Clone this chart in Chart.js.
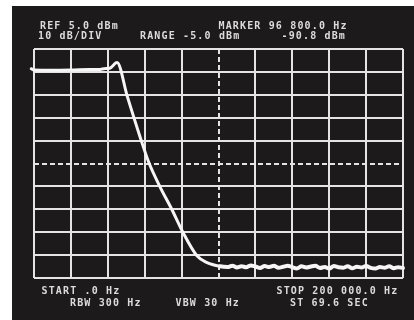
<!DOCTYPE html>
<html><head><meta charset="utf-8">
<script src="https://cdn.jsdelivr.net/npm/chart.js@4.4.0/dist/chart.umd.min.js"></script>
<style>html,body{margin:0;padding:0;background:#fff;overflow:hidden}</style>
</head><body>
<canvas id="c" width="414" height="320"></canvas>
<script>
// ---- data ----
const freqHz = [
  -1500, 0, 10000, 20000, 30000, 36000, 38000, 41000, 45000, 50600,
  57500, 62300, 68300, 74800, 80800, 88300, 93800, 100800,
  105000, 107500, 110000, 112500, 115000, 117500, 120000, 122500, 125000, 127500,
  130000, 132500, 135000, 137500, 140000, 142500, 145000, 147500, 150000, 152500,
  155000, 157500, 160000, 162500, 165000, 167500, 170000, 172500, 175000, 177500,
  180000, 182500, 185000, 187500, 190000, 192500, 195000, 197500, 200000, 202500
];
const levelDbm = [
  -3.6, -4.2, -4.3, -4.2, -4.0, -3.9, -3.6, -3.4, -0.9, -15.8,
  -33.4, -44.7, -55.2, -65.2, -75.2, -85.3, -88.3, -89.9,
  -90.2, -89.6, -90.4, -89.9, -90.3, -89.5, -90.0, -90.6, -89.8, -90.2,
  -89.7, -90.5, -90.1, -89.6, -90.3, -90.8, -89.9, -90.4, -90.0, -89.7,
  -90.6, -90.2, -90.9, -89.8, -90.3, -90.5, -89.9, -90.7, -90.1, -90.4,
  -89.8, -90.6, -90.9, -90.2, -90.5, -89.9, -90.7, -90.3, -90.6, -90.4
];
const xTickValues = [0, 20000, 40000, 60000, 80000, 100000, 120000, 140000, 160000, 180000, 200000];
const yTickValues = [-95, -85, -75, -65, -55, -45, -35, -25, -15, -5, 5];
const centerFreq = 100000;
const centerLevel = -45;
const floorStartHz = 100000;
const topLines = [
  {text: 'REF 5.0 dBm', x: 40, y: 28.5},
  {text: '10 dB/DIV', x: 38, y: 38.5},
  {text: 'RANGE -5.0 dBm', x: 140, y: 38.5},
  {text: 'MARKER 96 800.0 Hz', x: 218.5, y: 28.5},
  {text: '-90.8 dBm', x: 281.5, y: 38.5}
];
const bottomLines = [
  {text: 'START .0 Hz', x: 41.5, y: 293.5},
  {text: 'RBW 300 Hz', x: 70, y: 306},
  {text: 'VBW 30 Hz', x: 175.5, y: 306},
  {text: 'STOP 200 000.0 Hz', x: 276.5, y: 293.5},
  {text: 'ST 69.6 SEC', x: 290, y: 306}
];

const GRID = '#e4e4e4';
const BG = '#1c1a1b';
const TXT = '#dcdcdc';

const screenPlugin = {
  id: 'screen',
  beforeDraw(chart) {
    const ctx = chart.ctx;
    ctx.save();
    ctx.fillStyle = '#ffffff';
    ctx.fillRect(0, 0, chart.width, chart.height);
    ctx.fillStyle = BG;
    ctx.fillRect(12, 6, chart.width - 12, chart.height - 6);
    ctx.restore();
  },
  beforeDatasetsDraw(chart) {
    const ctx = chart.ctx, xs = chart.scales.x, ys = chart.scales.y, a = chart.chartArea;
    ctx.save();
    ctx.strokeStyle = GRID;
    ctx.lineWidth = 2;
    ctx.setLineDash([5, 3]);
    const cx = Math.round(xs.getPixelForValue(centerFreq));
    ctx.beginPath(); ctx.moveTo(cx, a.top); ctx.lineTo(cx, a.bottom); ctx.stroke();
    const cy = Math.round(ys.getPixelForValue(centerLevel));
    ctx.beginPath(); ctx.moveTo(a.left, cy); ctx.lineTo(a.right, cy); ctx.stroke();
    ctx.restore();
  },
  afterDraw(chart) {
    const ctx = chart.ctx;
    ctx.save();
    ctx.fillStyle = TXT;
    ctx.font = 'bold 10px "DejaVu Sans Mono"';
    ctx.textBaseline = 'alphabetic';
    ctx.textAlign = 'left';
    if ('letterSpacing' in ctx) ctx.letterSpacing = '1.15px';
    [...topLines, ...bottomLines].forEach(t => ctx.fillText(t.text, t.x, t.y));
    ctx.restore();
  }
};

new Chart(document.getElementById('c'), {
  type: 'line',
  data: {
    datasets: [{
      data: freqHz.map((f, i) => ({x: f, y: levelDbm[i]})),
      borderColor: '#f6f6f6',
      borderWidth: 3,
      pointRadius: 0,
      cubicInterpolationMode: 'monotone',
      clip: false,
      borderJoinStyle: 'round',
      borderCapStyle: 'round',
      segment: {
        borderWidth: c => (c.p0.parsed.x >= floorStartHz ? 4 : 3)
      }
    }]
  },
  options: {
    responsive: false,
    animation: false,
    devicePixelRatio: 1,
    layout: {padding: {left: 34, top: 49, right: 11, bottom: 42}},
    plugins: {legend: {display: false}, tooltip: {enabled: false}},
    scales: {
      x: {
        type: 'linear', min: 0, max: 200000,
        afterBuildTicks: s => { s.ticks = xTickValues.map(v => ({value: v})); },
        ticks: {display: false},
        grid: {
          color: c => (c.tick && c.tick.value === centerFreq) ? 'rgba(0,0,0,0)' : GRID,
          lineWidth: 2, drawTicks: false
        },
        border: {display: false}
      },
      y: {
        type: 'linear', min: -95, max: 5,
        afterBuildTicks: s => { s.ticks = yTickValues.map(v => ({value: v})); },
        ticks: {display: false},
        grid: {
          color: c => (c.tick && c.tick.value === centerLevel) ? 'rgba(0,0,0,0)' : GRID,
          lineWidth: 2, drawTicks: false
        },
        border: {display: false}
      }
    }
  },
  plugins: [screenPlugin]
});
</script>
</body></html>
